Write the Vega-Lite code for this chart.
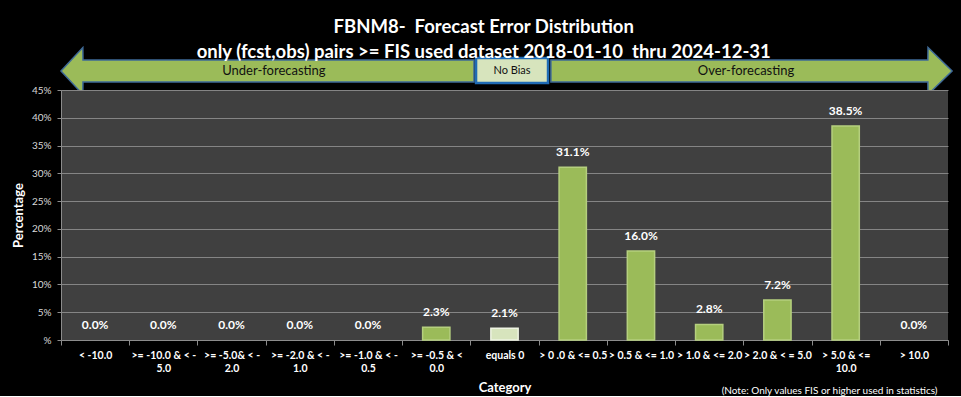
{
  "$schema": "https://vega.github.io/schema/vega-lite/v6.json",
  "background": "black",
  "padding": {"left": 12, "top": 18, "right": 5, "bottom": 0},
  "config": {"view": {"stroke": null}, "font": "Lato"},
  "title": {
    "text": ["FBNM8-\u00a0 Forecast Error Distribution", "only (fcst,obs) pairs >= FIS used dataset 2018-01-10\u00a0 thru 2024-12-31"],
    "color": "white", "fontSize": 18.5, "fontWeight": "bold", "font": "Lato",
    "lineHeight": 25, "anchor": "middle", "frame": "bounds", "offset": -17
  },
  "spacing": 0,
  "bounds": "flush",
  "datasets": {
    "dist": [
      {"cat": "< -10.0", "pct": 0.0, "group": "Under"},
      {"cat": ">= -10.0 & < -5.0", "pct": 0.0, "group": "Under"},
      {"cat": ">= -5.0& < -2.0", "pct": 0.0, "group": "Under"},
      {"cat": ">= -2.0 & < -1.0", "pct": 0.0, "group": "Under"},
      {"cat": ">= -1.0 & < -0.5", "pct": 0.0, "group": "Under"},
      {"cat": ">= -0.5 & < 0.0", "pct": 0.023, "group": "Under"},
      {"cat": "equals 0", "pct": 0.021, "group": "No Bias"},
      {"cat": "> 0 .0 & <= 0.5", "pct": 0.311, "group": "Over"},
      {"cat": "> 0.5 & <= 1.0", "pct": 0.160, "group": "Over"},
      {"cat": "> 1.0 & <= 2.0", "pct": 0.028, "group": "Over"},
      {"cat": "> 2.0 & < = 5.0", "pct": 0.072, "group": "Over"},
      {"cat": "> 5.0 & <= 10.0", "pct": 0.385, "group": "Over"},
      {"cat": "> 10.0", "pct": 0.0, "group": "Over"}
    ],
    "arrows": [
      {"arrow": "Under", "x": 0, "y": 0, "y2": 0},
      {"arrow": "Under", "x": 0.32, "y": 1.02, "y2": -1.02},
      {"arrow": "Under", "x": 0.322, "y": 0.478, "y2": -0.478},
      {"arrow": "Under", "x": 6.053, "y": 0.478, "y2": -0.478},
      {"arrow": "Over", "x": 7.18, "y": 0.478, "y2": -0.478},
      {"arrow": "Over", "x": 12.705, "y": 0.478, "y2": -0.478},
      {"arrow": "Over", "x": 12.707, "y": 1.02, "y2": -1.02},
      {"arrow": "Over", "x": 13.06, "y": 0, "y2": 0}
    ],
    "arrowLabels": [
      {"label": "Under-forecasting", "x": 3.12, "y": 0},
      {"label": "Over-forecasting", "x": 10.04, "y": 0}
    ],
    "boxes": [
      {"label": "No Bias", "x1": 6.083, "x2": 7.138, "y1": 0.565, "y2": -0.52, "xc": 6.61, "yc": 0}
    ]
  },
  "vconcat": [
    {
      "width": 887,
      "height": 45,
      "view": {"fill": "black", "stroke": null},
      "layer": [
        {
          "data": {"name": "arrows"},
          "mark": {"type": "area", "fill": "#9BBB59", "stroke": "#3E6A98", "strokeWidth": 1.5, "clip": false, "fillOpacity": 1},
          "encoding": {
            "x": {"field": "x", "type": "quantitative", "scale": {"domain": [0, 13], "nice": false, "zero": false}, "axis": null},
            "y": {"field": "y", "type": "quantitative", "scale": {"domain": [-0.826, 1.13], "nice": false, "zero": false}, "axis": null},
            "y2": {"field": "y2"},
            "detail": {"field": "arrow", "type": "nominal"}
          }
        },
        {
          "data": {"name": "boxes"},
          "mark": {"type": "rect", "fill": "#D7E4BD", "stroke": "#1F6BB5", "strokeWidth": 2.5},
          "encoding": {
            "x": {"field": "x1", "type": "quantitative"},
            "x2": {"field": "x2"},
            "y": {"field": "y1", "type": "quantitative"},
            "y2": {"field": "y2"}
          }
        },
        {
          "data": {"name": "boxes"},
          "mark": {"type": "text", "color": "#111111", "fontSize": 11, "baseline": "middle"},
          "encoding": {
            "x": {"field": "xc", "type": "quantitative"},
            "y": {"field": "yc", "type": "quantitative"},
            "text": {"field": "label"}
          }
        },
        {
          "data": {"name": "arrowLabels"},
          "mark": {"type": "text", "color": "#111111", "fontSize": 13, "baseline": "middle"},
          "encoding": {
            "x": {"field": "x", "type": "quantitative"},
            "y": {"field": "y", "type": "quantitative"},
            "text": {"field": "label"}
          }
        }
      ]
    },
    {
      "width": 887,
      "height": 250,
      "view": {"fill": "#404040", "stroke": null},
      "data": {"name": "dist"},
      "title": {
        "text": "(Note: Only values FIS or higher used in statistics)",
        "orient": "bottom", "anchor": "end", "fontSize": 10, "fontWeight": "normal",
        "color": "white", "offset": -9, "dx": -11
      },
      "encoding": {
        "x": {
          "field": "cat", "type": "nominal", "sort": null,
          "scale": {"paddingInner": 0, "paddingOuter": 0},
          "axis": {
            "title": "Category", "titleColor": "white", "titleFontSize": 13, "titleFontWeight": "bold", "titlePadding": 8,
            "labelColor": "white", "labelFontWeight": "bold", "labelFontSize": 10.5, "labelAngle": 0, "labelLimit": 0,
            "labelLineHeight": 13, "labelPadding": 5, "labelBaseline": "top",
            "tickBand": "extent", "tickSize": 5, "tickColor": "#8c8c8c", "domainColor": "#8c8c8c", "grid": false,
            "labelExpr": "({'>= -10.0 & < -5.0': ['>= -10.0 & < -', '5.0'], '>= -5.0& < -2.0': ['>= -5.0& < -', '2.0'], '>= -2.0 & < -1.0': ['>= -2.0 & < -', '1.0'], '>= -1.0 & < -0.5': ['>= -1.0 & < -', '0.5'], '>= -0.5 & < 0.0': ['>= -0.5 & <', '0.0'], '> 5.0 & <= 10.0': ['> 5.0 & <=', '10.0']})[datum.label] || datum.label"
          }
        },
        "y": {
          "field": "pct", "type": "quantitative",
          "scale": {"domain": [0, 0.45], "nice": false},
          "axis": {
            "values": [0, 0.05, 0.1, 0.15, 0.2, 0.25, 0.3, 0.35, 0.4, 0.45],
            "labelExpr": "datum.value == 0 ? '%' : format(datum.value, '.0%')",
            "labelOverlap": false, "labelBound": false,
            "title": "Percentage", "titleColor": "white", "titleFontSize": 13, "titleFontWeight": "bold", "titlePadding": 6,
            "labelColor": "#d9d9d9", "labelFontSize": 10, "labelPadding": 6,
            "gridColor": "#858585", "gridWidth": 1, "domainColor": "#8c8c8c", "tickColor": "#8c8c8c", "tickSize": 4
          }
        }
      },
      "layer": [
        {
          "mark": {"type": "bar", "width": {"band": 0.4}, "strokeWidth": 1.5},
          "encoding": {
            "color": {
              "field": "group", "type": "nominal",
              "scale": {"domain": ["Under", "No Bias", "Over"], "range": ["#9BBB59", "#D7E4BD", "#9BBB59"]},
              "legend": null
            },
            "stroke": {
              "condition": {
                "test": "datum.pct > 0",
                "field": "group", "type": "nominal",
                "scale": {"domain": ["Under", "No Bias", "Over"], "range": ["#B5CF7E", "#EEF3E2", "#B5CF7E"]},
                "legend": null
              },
              "value": null
            }
          }
        },
        {
          "mark": {"type": "text", "baseline": "bottom", "dy": -8, "color": "white", "fontWeight": "bold", "fontSize": 12},
          "encoding": {
            "text": {"field": "pct", "type": "quantitative", "format": ".1%"}
          }
        }
      ]
    }
  ]
}
